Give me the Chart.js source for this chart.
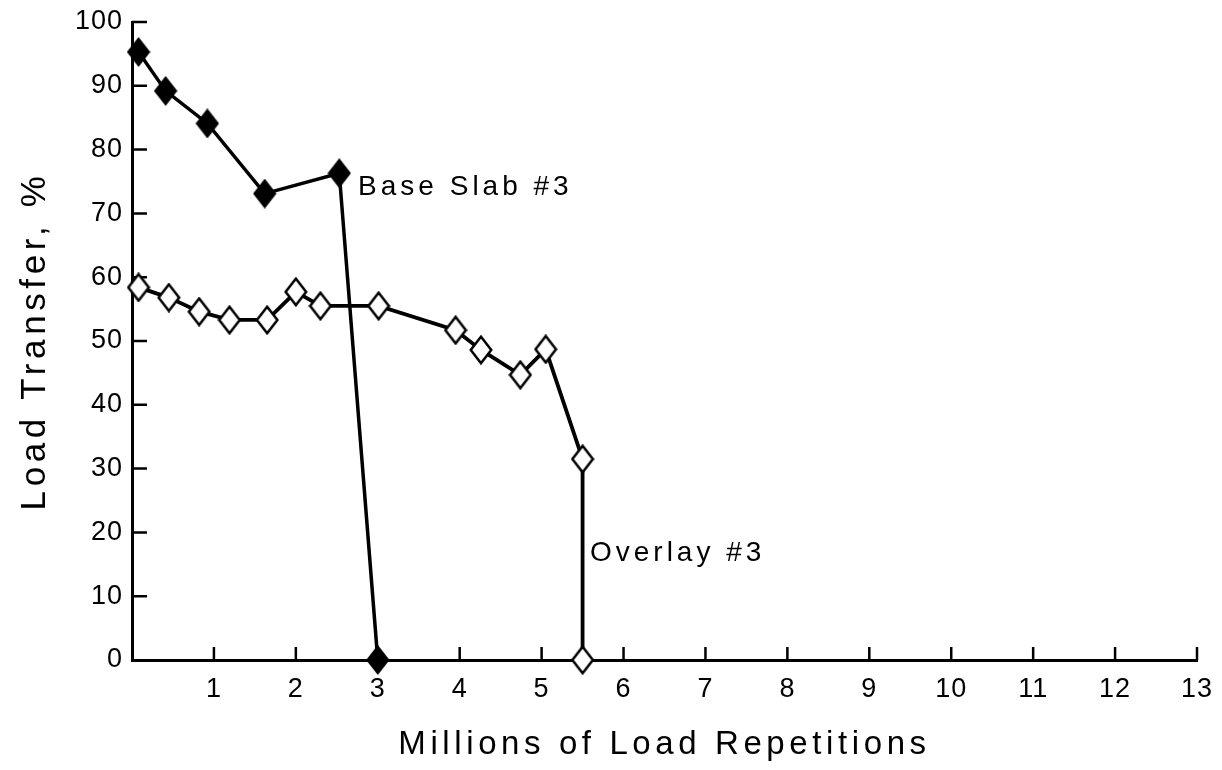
<!DOCTYPE html>
<html><head><meta charset="utf-8">
<script src="https://cdn.jsdelivr.net/npm/chart.js@4.4.1/dist/chart.umd.min.js"></script>
<style>html,body{margin:0;padding:0;background:#fff}canvas{display:block}</style>
</head><body>
<canvas id="c" width="1222" height="770"></canvas>
<script>
// ---- data ----
const baseSlabX = [0.08, 0.41, 0.92, 1.62, 2.53, 3.0];
const baseSlabY = [95.3, 89.2, 84.1, 73.1, 76.3, 0];
const overlayX = [0.08, 0.45, 0.82, 1.19, 1.65, 2.0, 2.3, 3.01, 3.95, 4.26, 4.74, 5.05, 5.5, 5.5];
const overlayY = [58.4, 56.8, 54.6, 53.3, 53.3, 57.7, 55.5, 55.5, 51.7, 48.6, 44.7, 48.7, 31.5, 0];
const xTickValues = [0,1,2,3,4,5,6,7,8,9,10,11,12,13];
const yTickValues = [0,10,20,30,40,50,60,70,80,90,100];
const seriesNames = ['Base Slab #3', 'Overlay #3'];
const seriesLabelX = [2.76, 5.59];
const seriesLabelY = [74.1, 16.8];
const xTitle = 'Millions of Load Repetitions';
const yTitle = 'Load Transfer, %';

const FONT = '"Liberation Sans", Arial, Helvetica, sans-serif';
const TITLE_SPACING = '4.6px';
const TICK_SPACING = '1px';

const toPts = (xs, ys) => xs.map((x, i) => ({x, y: ys[i]}));

// marker images: tall diamonds as in the scanned figure
function diamond(w, h, fill, lw){
  const cv = document.createElement('canvas');
  cv.width = w; cv.height = h;
  const g = cv.getContext('2d');
  const p = lw / 2 + 0.5;
  g.beginPath();
  g.moveTo(w/2, p); g.lineTo(w - p, h/2); g.lineTo(w/2, h - p); g.lineTo(p, h/2); g.closePath();
  g.fillStyle = fill; g.fill();
  g.lineWidth = lw; g.strokeStyle = '#000'; g.lineJoin = 'miter'; g.stroke();
  return cv;
}
const filledDiamond = diamond(24, 30, '#000', 1.5);
const openDiamond = diamond(24, 30, '#fff', 2.5);

const spacingPlugin = {
  id: 'spacing',
  beforeLayout(c){ c.ctx.letterSpacing = TICK_SPACING; },
  beforeDraw(c){ c.ctx.letterSpacing = TITLE_SPACING; }
};

const inwardTicks = {
  id: 'inwardTicks',
  beforeDatasetsDraw(c){
    const ctx = c.ctx, xs = c.scales.x, ys = c.scales.y;
    ctx.save();
    ctx.strokeStyle = '#000';
    ctx.lineWidth = 2.5;
    ctx.beginPath();
    xTickValues.forEach(v => {
      if (v === 0) return;
      const px = xs.getPixelForValue(v);
      ctx.moveTo(px, ys.bottom); ctx.lineTo(px, ys.bottom - 13);
    });
    yTickValues.forEach(v => {
      if (v === 0) return;
      const py = ys.getPixelForValue(v);
      ctx.moveTo(xs.left, py); ctx.lineTo(xs.left + 15, py);
    });
    ctx.stroke();
    ctx.restore();
    ctx.letterSpacing = TICK_SPACING; // tick labels are drawn after datasets (ticks.z = 1)
  }
};

const seriesTextPlugin = {
  id: 'seriesText',
  afterDraw(c){
    const ctx = c.ctx, xs = c.scales.x, ys = c.scales.y;
    ctx.save();
    ctx.letterSpacing = '4px';
    ctx.font = '28px ' + FONT;
    ctx.fillStyle = '#000';
    ctx.textAlign = 'left';
    ctx.textBaseline = 'middle';
    seriesNames.forEach((t, i) => {
      ctx.fillText(t, xs.getPixelForValue(seriesLabelX[i]), ys.getPixelForValue(seriesLabelY[i]));
    });
    ctx.restore();
  }
};

new Chart(document.getElementById('c'), {
  type: 'scatter',
  data: {
    datasets: [
      {
        label: seriesNames[1],
        data: toPts(overlayX, overlayY),
        showLine: true,
        borderColor: '#000',
        borderWidth: 3.8,
        pointStyle: openDiamond,
        tension: 0,
        clip: false
      },
      {
        label: seriesNames[0],
        data: toPts(baseSlabX, baseSlabY),
        showLine: true,
        borderColor: '#000',
        borderWidth: 3.5,
        pointStyle: filledDiamond,
        tension: 0,
        clip: false
      }
    ]
  },
  options: {
    responsive: false,
    animation: false,
    events: [],
    layout: { padding: { top: 22, right: 25, left: 0, bottom: 0 } },
    plugins: { legend: { display: false }, tooltip: { enabled: false } },
    scales: {
      x: {
        type: 'linear',
        min: 0, max: 13,
        afterBuildTicks(s){ s.ticks = xTickValues.map(v => ({value: v})); },
        afterFit(s){ s.height = 110; s.paddingLeft = 0; s.paddingRight = 0; },
        grid: { display: false, drawTicks: false },
        border: { display: true, color: '#000', width: 3 },
        ticks: {
          z: 1,
          color: '#000', padding: 13,
          font: { family: FONT, size: 27 },
          maxRotation: 0, autoSkip: false,
          callback: v => v === 0 ? '' : String(v)
        },
        title: {
          display: true, text: xTitle, color: '#000',
          font: { family: FONT, size: 33 },
          padding: { top: 0, bottom: 5 }
        }
      },
      y: {
        type: 'linear',
        min: 0, max: 100,
        afterBuildTicks(s){ s.ticks = yTickValues.map(v => ({value: v})); },
        afterFit(s){ s.width = 132; s.paddingTop = 0; s.paddingBottom = 0; },
        grid: { display: false, drawTicks: false },
        border: { display: true, color: '#000', width: 3 },
        ticks: {
          z: 1,
          color: '#000', padding: 9,
          font: { family: FONT, size: 27 },
          autoSkip: false,
          callback: v => String(v)
        },
        title: {
          display: true, text: yTitle, color: '#000',
          font: { family: FONT, size: 35 },
          padding: { top: 14, bottom: 0 }
        }
      }
    }
  },
  plugins: [spacingPlugin, inwardTicks, seriesTextPlugin]
});
</script>
</body></html>
